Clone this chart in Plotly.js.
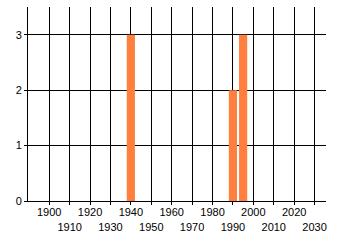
<!DOCTYPE html>
<html><head><meta charset="utf-8">
<script src="https://cdn.plot.ly/plotly-3.0.1.min.js"></script>
<style>html,body{margin:0;padding:0;background:#fff}#c{width:340px;height:245px}</style>
</head><body><div id="c"></div>
<script>
const years = [1940, 1990, 1995];
const counts = [3, 2, 3];
const tickYears = [1900,1910,1920,1930,1940,1950,1960,1970,1980,1990,2000,2010,2020,2030];
const tickLabels = ["1900","1910","1920","1930","1940","1950","1960","1970","1980","1990","2000","2010","2020","2030"];
const yTicks = [0,1,2,3];

const staggered = tickLabels.map((t,i)=> i%2===0 ? t : "<br>"+t);

Plotly.newPlot('c', [{
  type:'bar', x:years, y:counts, width:4,
  marker:{color:'#ff7f3f', line:{width:0}},
  hoverinfo:'none'
}], {
  width:340, height:245,
  margin:{l:28, r:14, t:7, b:44},
  paper_bgcolor:'#fff', plot_bgcolor:'#fff',
  font:{family:'"Liberation Sans", Arial, sans-serif', size:11, color:'#000'},
  showlegend:false,
  xaxis:{range:[1889.6,2035.6], tickmode:'array', tickvals:tickYears, ticktext:staggered,
    showgrid:true, gridcolor:'#000', gridwidth:1, showline:true, linecolor:'#000', linewidth:1,
    ticks:'outside', ticklen:3, tickcolor:'#000', zeroline:false, tickangle:0, automargin:false,
    ticklabelstandoff:-2},
  yaxis:{range:[0,3.5], tickmode:'array', tickvals:yTicks, showgrid:true, gridcolor:'#000', gridwidth:1,
    showline:true, linecolor:'#000', linewidth:1, ticks:'outside', ticklen:3, tickcolor:'#000',
    zeroline:false, automargin:false}
}, {staticPlot:true, displayModeBar:false});
</script></body></html>
